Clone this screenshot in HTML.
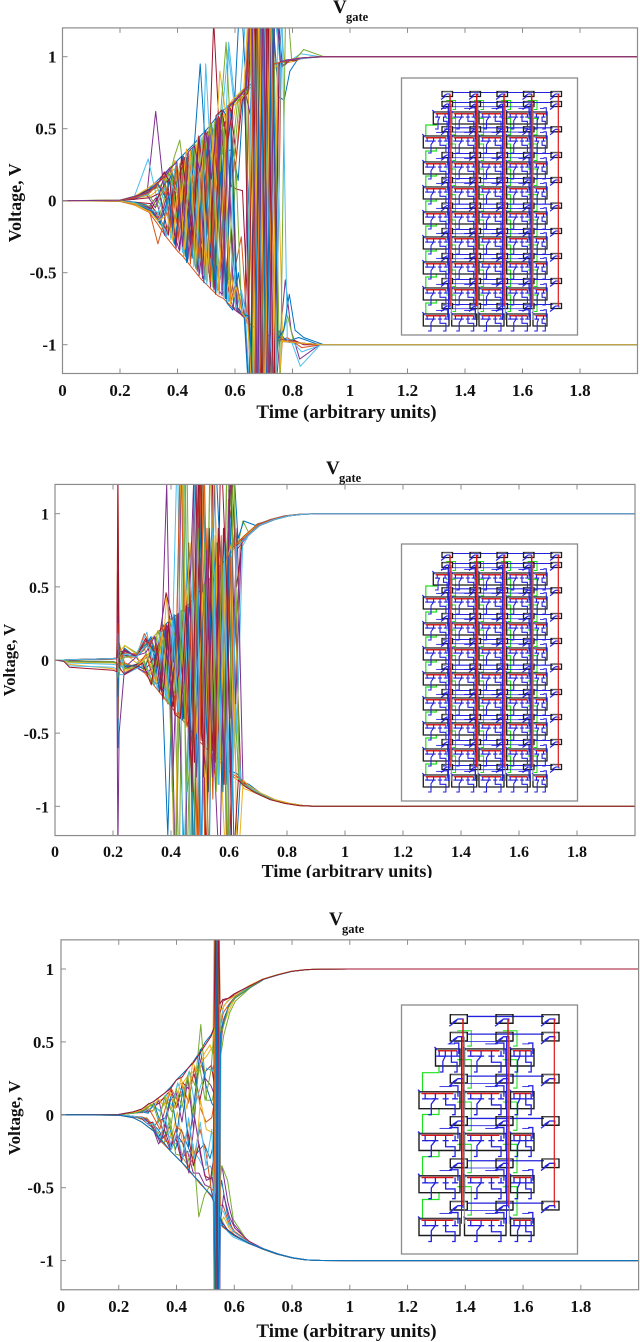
<!DOCTYPE html>
<html lang="en">
<head>
<meta charset="utf-8">
<title>Vgate voltage versus time</title>
<style>
html,body{margin:0;padding:0;background:#fff;}
#chart{display:block;width:640px;height:1342px;filter:blur(0.35px);}
text{font-family:"Liberation Serif",serif;font-weight:bold;fill:#111;}
</style>
</head>
<body>
<svg id="chart" xmlns="http://www.w3.org/2000/svg" width="640" height="1342" viewBox="0 0 640 1342"></svg>
<script>
const seriesColors = ["#0072BD","#D95319","#EDB120","#7E2F8E","#77AC30","#4DBEEE","#A2142F"];
const xTickValues = [0,0.2,0.4,0.6,0.8,1,1.2,1.4,1.6,1.8];
const xTickLabels = ["0","0.2","0.4","0.6","0.8","1","1.2","1.4","1.6","1.8"];
const yTickValues = [-1,-0.5,0,0.5,1];
const yTickLabels = ["-1","-0.5","0","0.5","1"];

const panel1Times = [0,.2,.25,.3,.33,.36,.38,.4,.42,.44,.46,.48,.5,.52,.54,.56,.58,.6,.62,.64,.66,.68,.7,.72,.74,.76,.78,.8,.83,.9,1,2];
const panel1TimeShifts = [0,0,.004,-.006,.008,-.002,.006,-.009,.002,.007,-.005,.009,-.003,.005,-.008,.001,.006,-.007,.003,-.004,.008,-.001,.005,-.009,.007,-.003,.002,-.006,.009,-.005,.004,-.002];
const panel1Values = [
[0,.005,.03,.08,.14,.2,.24,.28,.32,.36,.4,.45,.49,.54,.59,.63,.66,.7,.74,.78,.82,.86,.89,.92,.95,.965,.975,.98,.99,.998,1,1],
[0,-.005,-.03,-.08,-.16,-.25,-.3,-.35,-.39,-.44,-.49,-.54,-.58,-.62,-.66,-.68,-.72,-.76,-.79,-.83,-.87,-.9,-.92,-.94,-.96,-.97,-.98,-.985,-.99,-.998,-1,-1],
[0,.004,.02,.03,.08,-.02,.1,.2,.05,.3,.22,.42,.2,.5,.3,.6,.45,.68,.7,.76,-1.4,1.5,-.6,1.4,.9,.96,.97,.98,.99,1,1,1],
[0,.002,.01,.05,.62,.05,-.08,.02,-.2,.1,-.35,.2,-.48,.05,-.6,-.65,-.6,-.75,-.78,-.8,1.5,-1.5,1.4,-1.5,-.95,-.97,-.98,-.985,-.99,-1,-1,-1],
[0,-.003,-.02,-.04,-.1,.12,.3,.42,.1,.35,-.1,.3,-.5,.55,-.2,.6,.66,.7,.72,.78,.8,1.5,-1.4,.9,.94,.96,.97,.98,.99,1,1,1],
[0,.003,.03,.29,.02,-.1,.05,-.28,.12,-.4,.38,-.5,.95,.2,.6,-.1,1.1,.72,.74,1.3,.82,-1.5,1.5,-1.5,1.3,.95,.98,.98,1.02,1,1,1],
[0,-.002,-.01,-.02,-.12,-.22,.08,.18,.28,.05,.35,-.3,.1,1.25,.45,.55,.1,.08,.07,-.82,.9,-1.3,-.8,-1.4,-.9,-.96,-.97,-.98,-.99,-1,-1,-1],
[0,.002,.01,.06,.11,.16,-.1,.22,-.15,.3,-.4,.38,-.2,.5,-.55,.32,.34,.36,.14,.78,-.2,1.4,.9,-1.4,1.3,.72,.7,.9,.99,1,1,1],
[0,-.004,-.03,-.07,-.3,-.08,-.2,-.05,-.37,.15,-.45,.25,-.56,.4,-.62,-.3,-.7,-.45,-.25,-.85,1.5,-1.5,-1.5,1.5,-.93,-.97,-.95,-.98,-1.02,-1,-1,-1],
[0,.003,.02,.06,.13,.18,.22,.06,.25,-.2,.39,.1,.46,.1,.9,.62,.65,.68,.72,.76,-1.5,1.5,.85,.9,.94,.96,.96,.97,.99,1,1,1],
[0,-.003,-.02,-.06,.02,-.24,-.12,-.33,.2,-.42,.1,-.52,-.2,-.6,.3,-.66,.55,-.74,-.77,-.82,-1.5,1.5,-1.5,1.5,-1.5,-.98,-.55,-.9,-1.1,-1,-1,-1],
[0,.004,.03,.07,.1,.19,.02,.26,-.25,.34,-.1,.45,.05,.52,.58,1.1,.3,.69,.73,.77,1.5,-1.4,1.5,-1.5,.95,.96,.97,.98,1.05,1,1,1],
[0,-.002,-.02,-.05,-.13,.1,-.27,.25,-.36,.33,-.46,.44,-.55,.52,-.64,-.2,-.7,-.3,-.78,-.82,-1.5,1.5,1.5,-1.5,-.95,-.96,-.98,-.98,-1.15,-1,-1,-1],
[0,.001,.01,.02,.05,.14,-.18,.1,.3,-.3,.2,-.4,.48,-.3,.57,.25,.64,.3,.7,.75,1.5,-.9,-1.5,1.5,1.4,.93,.98,.97,.99,1,1,1],
[0,-.001,-.01,-.03,-.09,-.2,.18,-.31,.02,-.43,.36,-.1,-.57,.35,-.65,.45,-.71,-.76,-.5,-.81,-1.5,1.5,-1.5,1.5,-1.5,-.9,-.96,-.97,-.95,-1,-1,-1],
[0,.003,.02,.05,.12,.04,.21,-.22,.31,-.12,.39,.02,.47,-.35,.58,-.4,.65,.2,.73,.77,1.4,-1.5,1.5,.91,-1.4,.97,.97,.98,.99,1,1,1],
[0,-.003,-.03,-.08,-.15,.07,-.29,.12,-.38,.26,-.48,.35,-.1,-.61,.4,-.67,-.5,-.75,-.78,-.82,1.5,-1.5,1.5,-1.5,.6,-.98,-.98,-.985,-.99,-1,-1,-1],
[0,.002,.015,.04,-.05,.17,.23,-.02,.15,.35,-.22,.44,-.42,.53,-.08,.62,-.25,.69,.73,.78,.6,1.5,-1.5,1.5,-1.5,.96,.94,.98,.99,1,1,1],
[0,-.002,-.015,-.04,-.14,-.23,-.06,.16,-.3,.21,-.47,.05,.42,-.6,.05,.5,-.69,.25,-.77,-.81,-1.5,1.5,-1.5,1.5,-.9,-.95,-.8,-.97,-.99,-1,-1,-1],
[0,.003,.02,.04,.13,-.12,.06,.27,-.28,.05,.39,-.45,.48,-.5,.58,.62,1.05,.69,.73,.76,-1.5,1.5,.88,-1.5,1.5,.96,.97,.98,.985,1,1,1],
[0,-.002,-.02,-.06,.05,-.24,.14,-.34,.22,-.38,.15,-.53,.3,-.61,.52,-.67,.3,-.74,-.79,-.81,1.5,-1.5,1.5,-1.5,-.94,-.97,-.98,-.97,-1,-1,-1,-1],
[0,.002,.02,.06,.12,.02,.2,.09,.31,-.18,.4,.95,.3,.53,.1,.63,.55,.7,1.5,.77,1.5,-1.5,1.5,-1.5,1.5,.97,.975,.98,.99,1,1,1],
[0,-.003,-.025,-.07,-.12,-.2,.03,-.26,.27,-.44,.2,-.51,-.35,.45,-.65,.35,-.7,-.55,-.78,-.83,-1.5,1.5,-1.5,1.5,-1.5,-.97,-.97,-.98,-.99,-1,-1,-1],
[0,.004,.03,.08,.12,.15,.16,.28,-.05,.36,.12,.44,-.52,.54,.25,-.3,.64,.7,.74,.78,1.5,-1.5,.9,1.5,-1.5,1.5,.97,.98,.99,1,1,1],
[0,-.003,-.02,-.05,-.15,.06,-.22,-.35,.05,-.3,.3,-.54,.45,-.62,.58,-.68,-.2,-.76,-.8,-.82,-1.5,1.5,-1.5,1.5,-.96,-.97,-.98,-.985,-.99,-1,-1,-1],
[0,.003,.02,.05,-.04,.11,.24,-.12,.22,-.05,.4,-.3,.4,.54,-.45,.6,-.55,.3,.74,.78,-1.5,1.5,-1.5,1.5,.95,-1.4,1.5,.98,.99,1,1,1],
[0,-.002,-.015,-.06,-.08,-.25,.1,.04,-.39,.32,-.3,.44,-.58,.3,-.4,-.68,.62,-.76,-.62,-.82,1.5,-1.5,1.5,-.93,-1.5,1.5,-.98,-.985,-1.05,-1,-1,-1],
[0,.002,.02,.07,.09,.2,.12,-.3,.31,.03,-.25,.45,.1,-.4,.59,.63,.4,.68,.72,.77,-1.5,1.5,-1.5,1.5,-1.5,.96,.97,.98,.99,1,1,1],
[0,-.003,-.02,-.07,-.16,.03,-.3,-.02,-.39,.18,-.49,.28,-.25,-.55,.2,-.68,.45,-.75,-.79,-.8,-1.5,1.5,-1.5,1.5,-.96,-.9,-.65,-.9,-.95,-1,-1,-1],
[0,.002,.02,.05,.1,.18,-.2,.24,-.24,.33,.12,-.4,.47,-.56,.55,-.45,.66,.69,.73,.78,1.5,-1.5,1.5,-1.5,.95,.96,.97,.98,.99,1,1,1],
[0,-.002,-.02,-.08,-.14,-.1,-.28,.2,-.34,.36,-.44,.4,-.56,.48,-.63,.3,-.72,-.6,-.78,-.83,-1.5,1.5,-1.5,1.5,-1.5,-.97,-.98,-.985,-.99,-1,-1,-1],
[0,.003,.03,.06,.12,.17,.23,.27,-.32,.34,.38,.2,.49,.15,.57,-.62,.65,.69,.73,.78,1.5,-1.5,1.5,-1.5,1.5,.965,.975,.98,.99,1,1,1]
];

const panel2Times = [0,.03,.05,.2,.213,.217,.221,.24,.28,.31,.34,.36,.38,.4,.42,.44,.46,.48,.5,.52,.54,.56,.58,.6,.62,.64,.66,.7,.75,.8,.85,.9,1,2];
const panel2TimeShifts = [0,0,.006,-.004,.008,-.007,.003,.009,-.002,-.008,.005,-.005,.007,.001,-.009,.004,-.003,.008,-.006,.002,.006,-.001,-.007,.009,.003,-.004,.005,-.008];
const panel2Values = [
[0,0,0,.01,.012,.02,.02,.02,.04,.1,.16,.2,.24,.28,.31,.34,.38,.43,.47,.52,.57,.62,.67,.72,.77,.81,.85,.92,.96,.985,.996,.999,1,1],
[0,-.005,-.01,-.015,-.02,-.03,-.03,-.03,-.05,-.09,-.17,-.22,-.27,-.32,-.37,-.41,-.46,-.51,-.56,-.6,-.64,-.68,-.72,-.76,-.79,-.82,-.86,-.91,-.955,-.98,-.995,-.999,-1,-1],
[0,-.01,-.03,-.06,-.07,1.3,-.1,.05,-.02,.03,.1,-.1,.45,-.2,.3,-.4,.5,-.5,.6,-.1,.65,.3,.7,.74,.78,.82,.86,.92,.96,.985,.996,.999,1,1],
[0,-.005,-.01,-.01,-.02,-1.3,-.5,-.05,.02,-.05,-.14,.12,-.2,.3,-1.5,1.5,-.45,.4,-.55,.5,-.63,.6,-.7,-.74,-.8,-.83,-.86,-.91,-.955,-.98,-.995,-.999,-1,-1],
[0,0,.002,.005,.01,.9,-.05,.1,.05,.12,.02,.18,-.3,.27,-1.5,1.5,-1.5,.43,.2,-.6,.57,-.3,.66,1.2,.76,.95,.87,.92,.96,.985,.996,.999,1,1],
[0,-.01,-.04,-.05,-.06,.85,-.1,-.1,-.04,-.08,.05,-.2,.1,-.3,.3,-.4,.6,-.8,.47,-.55,.55,-.66,.3,-.75,.1,-.82,-.86,-.91,-.955,-.98,-.995,-.999,-1,-1],
[0,0,.002,.006,.01,.6,.08,.03,.03,.15,-.1,.2,.46,.29,-.35,.34,-.44,1.5,-1.5,.5,-.62,.9,-.85,.72,.2,.82,.85,.92,.96,.985,.996,.999,1,1],
[0,-.002,-.005,-.01,-.02,-.6,.05,-.05,-.03,.02,-.16,-.15,-1.2,.2,-.36,.3,-.45,-1.5,1.5,-.9,.56,-.68,.62,-.76,-.78,-.83,-.85,-.91,-.955,-.98,-.995,-.999,-1,-1],
[0,0,.002,.008,.012,.08,-.03,.02,.02,.18,.08,.05,.22,-.28,.3,.1,.37,-.5,1.5,-1.5,-.2,.6,-.9,1.1,.78,.8,.85,.93,.96,.985,.996,.999,1,1],
[0,-.002,-.006,-.012,-.02,-.2,.06,-.08,-.05,-.02,-.1,.16,-.26,.25,-1.5,.34,-.46,.42,-1.5,1.5,-.64,.85,-.72,-1.5,-.8,-.82,-.88,-.91,-.955,-.98,-.995,-.999,-1,-1],
[0,0,.003,.01,.012,.3,-.02,.06,.03,.09,.16,-.05,1.2,-.9,.31,-.4,.38,-.1,.47,-.9,.95,-.85,.9,-.4,.75,.8,.85,.92,.96,.985,.996,.999,1,1],
[0,-.003,-.008,-.012,-.02,-.3,.12,-.03,-.04,.01,-.15,.1,-.25,-.3,-.2,1.5,-1.5,.41,-.55,.8,-.9,.7,-.7,1.5,-.2,-.82,-.86,-.91,-.955,-.98,-.995,-.999,-1,-1],
[0,0,.001,.008,.01,.2,.03,.04,.04,.19,-.15,.2,-.27,.28,-.37,1.5,-1.5,.75,.46,-.4,.57,-.67,.66,.71,-.5,.78,.85,.92,.96,.985,.996,.999,1,1],
[0,-.002,-.007,-.015,-.02,-.1,.06,-.06,-.03,-.07,.02,-.22,.23,-.32,.3,-.41,.8,-.7,1.5,-1.5,.56,-.68,.9,-1.5,.35,-.82,-.86,-.91,-.955,-.98,-.995,-.999,-1,-1],
[0,0,.002,.01,.011,.15,-.01,.08,.02,.06,.16,-.12,.24,-.15,.31,-.38,.37,-.9,1.5,.2,-1.5,1.5,.67,-.85,1.5,.83,.95,.92,.96,.985,.996,.999,1,1],
[0,-.004,-.01,-.014,-.025,-.4,.1,-.02,-.05,.04,-.17,.14,-.27,.1,-.37,.33,-.46,.7,-.55,.9,-.95,.8,-.8,.7,-.79,-.82,-.86,-.91,-.955,-.98,-.995,-.999,-1,-1],
[0,0,.003,.01,.012,.05,.05,.1,.04,-.08,.15,.2,-.2,.28,.05,1.5,-.42,.3,.85,-.8,1.5,-.6,-.7,.9,-.6,.76,.85,.92,.96,.985,.996,.999,1,1],
[0,-.003,-.009,-.015,-.02,-.05,.02,-.09,-.05,-.09,-.02,-.22,-.1,.15,-.36,-1.5,.35,-.8,.4,.7,-.63,-1.5,.8,-.9,.9,-.82,-.86,-.91,-.955,-.98,-.995,-.999,-1,-1],
[0,0,.002,.01,.012,.12,-.04,.02,.03,.1,-.06,.2,.1,.27,.16,-.4,1.5,-1.5,.1,.52,-.9,.8,-.5,1.5,.77,.81,.85,.92,.96,.985,.996,.999,1,1],
[0,-.005,-.02,-.03,-.035,-.15,.04,-.1,-.06,-.03,-.17,.05,-.27,-.12,1.5,-1.5,-.3,.42,-1.5,.5,.9,-.85,.65,-1.5,-.25,-.84,-.86,-.91,-.955,-.98,-.995,-.999,-1,-1],
[0,0,.001,.01,.012,.07,.02,.07,.02,.14,.04,-.2,.24,-.32,-.1,.34,-.7,1.5,-.5,-.85,1.5,.1,-.8,1.5,.5,.81,.85,.92,.96,.985,.996,.999,1,1],
[0,-.002,-.008,-.015,-.02,-.25,.03,-.04,-.04,-.06,.1,-.21,.2,-.31,.3,-.41,.36,-1.5,.7,-.6,.4,.8,-.9,.7,-1.5,-.82,-.87,-.91,-.955,-.98,-.995,-.999,-1,-1],
[0,0,.002,.01,.012,.25,-.06,.05,.04,.06,.14,.02,.24,.2,-.36,1.5,-.44,.42,-1.5,1.5,-.62,-.8,.85,-1.5,.77,.81,.85,.92,.96,.985,.996,.999,1,1],
[0,-.004,-.015,-.02,-.025,-.08,.04,-.07,-.05,.03,-.16,.19,-.26,-.02,-.36,.32,.8,-.5,.46,-1.5,1.5,-.67,.65,.8,-1.5,-.82,-.86,-.91,-.955,-.98,-.995,-.999,-1,-1],
[0,0,.002,.01,.012,.03,.06,.06,.03,.05,.16,-.18,.24,-.28,.31,-.2,.37,1.5,-1.5,.75,-.8,.61,-.75,1.5,-.3,.81,.85,.92,.96,.985,.996,.999,1,1],
[0,-.003,-.01,-.015,-.02,-.12,.08,-.06,-.05,-.01,-.16,.04,.15,-.32,-1.5,.33,-.9,-.5,.9,-.6,1.5,-.9,.7,-1.5,1.5,-.82,-.86,-.91,-.955,-.98,-.995,-.999,-1,-1],
[0,0,.002,.01,.012,.18,-.08,.04,.02,.1,.04,.19,-.26,.27,-.35,.33,-.45,1.5,-1.5,.51,.9,-.85,.8,-1.5,.77,.81,.85,.92,.96,.985,.996,.999,1,1],
[0,-.008,-.05,-.07,-.08,1.3,-.05,-.1,-.05,-.02,-.17,.1,-.27,.26,-.37,-.4,.37,-.9,1.5,-.8,.9,-.7,1.5,.5,-1.5,-.82,-.86,-.91,-.955,-.98,-.995,-.999,-1,-1]
];

const panel3Times = [0,.2,.25,.28,.3,.32,.34,.36,.38,.4,.42,.44,.46,.48,.5,.52,.53,.535,.54,.545,.55,.56,.58,.6,.65,.7,.75,.8,.85,.9,1,2];
const panel3TimeShifts = [0,0,.003,-.002,.004,-.003,.001,-.004,.002,.003,-.001,-.003,.004,-.002,.002,.001,-.004,.003,-.001,.002,0,0];
const panel3Values = [
[0,.003,.02,.04,.07,.09,.12,.15,.19,.24,.28,.32,.37,.43,.5,.55,.6,.63,.65,.7,.76,.79,.8,.83,.88,.93,.96,.985,.996,.999,1,1],
[0,-.003,-.02,-.05,-.08,-.11,-.17,-.21,-.25,-.29,-.33,-.38,-.42,-.47,-.51,-.56,-.6,-.64,-.66,-.7,-.74,-.77,-.8,-.83,-.88,-.92,-.955,-.98,-.995,-.999,-1,-1],
[0,.002,.015,.03,.06,.08,.1,.12,.04,.2,.22,.28,.3,.36,.4,.46,.5,-1.5,1.5,-1.5,.5,.62,.72,.8,.87,.93,.96,.985,.996,.999,1,1],
[0,-.002,-.015,-.02,-.06,-.09,-.2,-.14,-.24,-.1,-.3,-.25,-.4,-.4,-.48,-.5,-.58,1.5,-1.5,1.5,-.35,-.36,-.6,-.75,-.87,-.92,-.955,-.98,-.995,-.999,-1,-1],
[0,.001,.01,.02,.08,.05,.03,.1,.02,.1,.16,.3,.2,.62,.1,.1,.2,1.5,-1.5,.9,.42,.55,.7,.78,.87,.93,.96,.985,.996,.999,1,1],
[0,-.001,-.01,-.02,-.04,-.08,-.05,-.12,-.15,-.2,-.18,-.26,-.24,-.3,-.38,-.35,-.4,-1.5,1.5,-1.5,-.8,-.72,-.8,-.84,-.88,-.92,-.955,-.98,-.995,-.999,-1,-1],
[0,.002,.01,.02,.03,.06,.08,.13,.17,.05,.22,.18,.28,.1,.3,.34,.2,1.5,-1.5,1.5,.7,.78,.8,.82,.88,.93,.96,.985,.996,.999,1,1],
[0,-.002,-.01,-.02,-.03,-.06,-.1,-.16,-.08,-.24,-.1,-.2,-.3,-.25,-.2,-.3,-.22,-1.5,1.5,-1.5,-.6,-.45,-.68,-.8,-.87,-.92,-.955,-.98,-.995,-.999,-1,-1],
[0,.001,.012,.015,.05,-.02,-.1,.05,.18,.1,.2,.08,.33,.05,-.05,-.02,.1,-1.5,1.5,-1.2,.6,.7,.76,.81,.87,.93,.96,.985,.996,.999,1,1],
[0,-.001,-.012,-.03,-.05,-.07,-.18,-.05,-.16,.02,-.22,-.05,-.38,.1,-.1,-.12,-.15,1.5,-1.5,1.5,-.75,-.7,-.78,-.83,-.88,-.92,-.955,-.98,-.995,-.999,-1,-1],
[0,.002,.01,.03,.02,.03,.1,-.08,.1,.15,-.05,.25,-.1,.4,.25,.2,.15,1.5,-1.5,.4,.3,.6,.74,.8,.87,.93,.96,.985,.996,.999,1,1],
[0,-.002,-.01,-.03,-.02,-.1,-.12,-.2,-.02,-.27,-.28,-.34,-.2,-.7,-.55,-.48,-.35,-1.5,1.5,-1.5,-.5,-.35,-.45,-.72,-.87,-.92,-.955,-.98,-.995,-.999,-1,-1],
[0,.001,.01,.02,.04,.06,.02,.14,.06,.22,.12,.3,.06,.2,.32,.3,.38,-1.5,1.5,-1.5,.66,.75,.79,.82,.88,.93,.96,.985,.996,.999,1,1],
[0,-.002,-.012,-.025,-.06,-.05,-.15,-.1,-.22,-.16,-.32,-.1,-.35,-.2,-.42,-.44,-.3,1.5,-1.5,1.5,-.68,-.74,-.79,-.82,-.88,-.92,-.955,-.98,-.995,-.999,-1,-1],
[0,.002,.012,.02,.01,.08,-.04,-.02,.14,-.12,.18,-.22,.1,.45,.2,.08,.05,-1.5,1.5,-1.5,.55,.65,.75,.8,.87,.93,.96,.985,.996,.999,1,1],
[0,-.001,-.01,-.015,-.03,-.09,-.02,-.18,-.2,-.08,-.12,-.36,-.28,-.1,-.25,-.52,-.5,1.5,-1.5,1.5,-.62,-.62,-.74,-.8,-.87,-.92,-.955,-.98,-.995,-.999,-1,-1],
[0,.002,.015,.03,.06,.02,.11,.06,.16,.04,.26,.04,.36,.28,.42,.48,.42,1.5,-1.5,1.5,.74,.72,.78,.81,.88,.93,.96,.985,.996,.999,1,1],
[0,-.002,-.012,-.02,-.05,-.1,-.19,-.07,-.23,-.14,-.2,-.4,-.02,-.28,-.45,-.43,-.55,-1.5,1.5,-1.5,-.72,-.55,-.7,-.78,-.87,-.92,-.955,-.98,-.995,-.999,-1,-1],
[0,.001,.01,.025,.05,.07,-.05,.13,-.1,.18,.05,.27,-.02,.35,.1,.3,.55,1.5,-1.5,1.5,.6,.58,.73,.8,.87,.93,.96,.985,.996,.999,1,1],
[0,-.001,-.01,-.02,-.07,-.06,-.17,-.02,-.24,-.12,-.3,-.02,-.3,-.05,-.35,-.1,-.58,-1.5,1.5,-1.5,-.66,-.66,-.76,-.81,-.88,-.92,-.955,-.98,-.995,-.999,-1,-1],
[0,.002,.02,.04,.07,.09,.12,.15,.18,.24,.26,.32,.36,.42,.48,.54,.6,1.5,-1.5,1.5,.76,.79,.8,.83,.88,.93,.96,.985,.996,.999,1,1],
[0,-.002,-.02,-.05,-.08,-.11,-.16,-.2,-.25,-.29,-.33,-.37,-.42,-.46,-.51,-.55,-.6,-1.5,1.5,-1.5,-.7,-.76,-.8,-.83,-.88,-.92,-.955,-.98,-.995,-.999,-1,-1]
];

const svgNS = "http://www.w3.org/2000/svg";
const chart = document.getElementById("chart");

function add(parent, tag, attrs) {
  const node = document.createElementNS(svgNS, tag);
  for (const key in attrs) node.setAttribute(key, attrs[key]);
  parent.appendChild(node);
  return node;
}

function drawPanel(index, cfg, times, values, shifts) {
  const xAxis = t => cfg.x0 + t * cfg.xPerUnit;
  const yAxis = v => cfg.y0 - v * cfg.yPerUnit;
  const left = xAxis(0), right = xAxis(2), top = yAxis(1.2), bottom = yAxis(-1.2);
  const panel = add(chart, "g", {});
  
  

  const clip = add(panel, "clipPath", {id: "plot-clip-" + index});
  add(clip, "rect", {x: left, y: top, width: right - left, height: bottom - top});

  const lines = add(panel, "g", {"clip-path": "url(#plot-clip-" + index + ")", fill: "none", "stroke-width": cfg.lineWidth, "stroke-linejoin": "round"});
  
  
  values.forEach((series, s) => {
    const shift = shifts[s] || 0;
    const pts = series.map((v, i) => {
      const t = times[i] >= cfg.shiftFrom && times[i] < 1 ? times[i] + shift : times[i];
      return xAxis(t).toFixed(1) + "," + yAxis(v).toFixed(1);
    }).join(" ");
    const line = add(lines, "polyline", {points: pts, stroke: seriesColors[s % seriesColors.length]});
    
    
  });

  const frame = add(panel, "rect", {x: left, y: top, width: right - left, height: bottom - top, fill: "none", stroke: "#8c8c8c", "stroke-width": 1.2});
  
  

  xTickValues.forEach((t, i) => {
    if (i > 0) {
      const tickB = add(panel, "line", {x1: xAxis(t), x2: xAxis(t), y1: bottom, y2: bottom - 5, stroke: "#8c8c8c", "stroke-width": 1});
      
      
      const tickT = add(panel, "line", {x1: xAxis(t), x2: xAxis(t), y1: top, y2: top + 5, stroke: "#8c8c8c", "stroke-width": 1});
      
      
    }
    const label = add(panel, "text", {x: xAxis(t), y: cfg.xTickY, "text-anchor": "middle", "font-size": cfg.tickFont});
    label.textContent = xTickLabels[i];
    
    
  });
  yTickValues.forEach((v, i) => {
    const tick = add(panel, "line", {x1: left, x2: left + 5, y1: yAxis(v), y2: yAxis(v), stroke: "#8c8c8c", "stroke-width": 1});
    
    
    const label = add(panel, "text", {x: cfg.yTickX, y: yAxis(v) + 6, "text-anchor": "end", "font-size": cfg.tickFont});
    label.textContent = yTickLabels[i];
    
    
  });

  const xTitle = add(panel, "text", {x: cfg.xTitleX, y: cfg.xTitleY, "text-anchor": "middle", "font-size": cfg.xTitleFont});
  xTitle.textContent = "Time (arbitrary units)";
  
  

  const yTitle = add(panel, "text", {transform: "translate(" + cfg.yTitleX + "," + (yAxis(0) + cfg.yTitleShift) + ") rotate(-90)", "text-anchor": "middle", "font-size": cfg.yTitleFont});
  yTitle.textContent = "Voltage, V";
  
  

  const title = add(panel, "text", {x: cfg.titleX, y: cfg.titleY, "font-size": 19});
  title.textContent = "V";
  
  
  const sub = add(panel, "text", {x: cfg.titleX + 13, y: cfg.titleY + 8, "font-size": 12.5});
  sub.textContent = "gate";
  
  
}

function path(parent, d, stroke, width) {
  return add(parent, "path", {d: d, fill: "none", stroke: stroke, "stroke-width": width});
}

function drawCircuit(index, c) {
  const inset = add(chart, "g", {});
  
  
  const panelBox = add(inset, "rect", {x: c.x, y: c.y, width: c.w, height: c.h, fill: "#fff", stroke: "#8c8c8c", "stroke-width": 1.3});
  
  
  const blue = "#2222dd", green = "#1fe01f", red = "#e01515", dark = "#1c1c1c";
  const last = c.smallX.length - 1;
  const bw1 = c.blueWidth;

  // green links around the small cells, feeding each row from the one above
  c.smallY.forEach((sy, r) => {
    if (r === 0) return;
    for (let k = 0; k < last; k++) {
      const sx = c.smallX[k];
      const rise = r === 1 ? c.smallH * 0.7 : c.greenRise;
      path(inset, "M" + (sx + c.smallW * 0.4) + " " + (sy - rise) + "H" + (sx + c.smallW + c.greenOut) + "V" + (sy + c.smallH * 1.1) + "H" + (sx + c.smallW), green, 1.1);
    }
  });
  c.bigY.forEach((by, r) => {
    if (r === 0) return;
    const gx = c.bigX[0][0] + c.greenInset;
    const prevBottom = c.bigY[r - 1] + c.bigH;
    const midY = by - c.greenRise;
    path(inset, "M" + gx + " " + by + "V" + midY + "H" + (c.bigX[0][0] + c.greenReach) + "V" + prevBottom, green, 1.2);
  });

  c.smallY.forEach((sy, r) => {
    path(inset, "M" + (c.smallX[0] + c.smallW) + " " + (sy - c.smallH * 0.3) + "H" + (c.smallX[last] + 2), blue, bw1);
    if (r > 0) path(inset, "M" + (c.smallX[0] + 4) + " " + (sy + c.smallH * 0.55) + "H" + (c.smallX[last - 1] + c.smallW), blue, 0.8);
  });

  c.bigY.forEach((by, r) => {
    c.bigX.forEach((b, k) => {
      const bx = (r === 0 && k === 0) ? b[0] + c.firstInset : b[0];
      const bw = (r === 0 && k === 0) ? b[1] - c.firstInset : b[1];
      path(inset, "M" + bx + " " + by + "h" + bw + "v" + c.bigH + "h" + (-bw) + "z", dark, c.boxWidth);
      path(inset, "M" + (bx + 1) + " " + (by + 0.8) + "h" + (bw - 2), "#888", 1.4);
      path(inset, "M" + (bx + 2.5) + " " + (by + 1.8) + "h" + (bw * 0.78), red, 1.4);
      const fractions = bw > 20 ? [0.15, 0.4, 0.65, 0.88] : [0.25, 0.75];
      fractions.forEach(f => {
        const px = bx + bw * f;
        path(inset, "M" + px + " " + (by + 2) + "v" + (c.bigH * 0.3), blue, bw1);
        path(inset, "M" + (px - c.bigH * 0.18) + " " + (by + c.bigH * 0.42) + "h" + (c.bigH * 0.36), blue, bw1);
      });
      path(inset, "M" + (bx + bw * 0.15) + " " + (by + c.bigH * 0.42) + "H" + (bx + bw * 0.4) + "L" + (bx + bw * 0.3) + " " + (by + c.bigH * 0.72) + "V" + (by + c.bigH + c.dropY) + "h-3", blue, bw1);
      path(inset, "M" + (bx + bw * 0.65) + " " + (by + c.bigH * 0.42) + "V" + (by + c.bigH * 0.78) + "H" + (bx + bw * 0.88) + "V" + (by + c.bigH + c.dropY) + "h-3", blue, bw1);
      path(inset, "M" + (bx + bw * 0.95) + " " + (by + c.bigH * 0.3) + "V" + (by - c.bigH * 0.35) + "h" + (-bw * 0.2), blue, bw1);
      path(inset, "M" + (bx + bw * 0.5) + " " + (by - c.bigH * 0.3) + "h" + (bw * 0.3) + "", blue, 0.9);
      path(inset, "M" + (bx - 1) + " " + (by - 2) + "l2.5 2.5", blue, bw1);
    });
  });

  c.smallY.forEach(sy => {
    c.smallX.forEach(sx => {
      path(inset, "M" + sx + " " + (sy - c.smallH / 2) + "h" + c.smallW + "v" + c.smallH + "h" + (-c.smallW) + "z", dark, c.boxWidth);
      path(inset, "M" + (sx + 1) + " " + (sy - c.smallH / 2 + 0.4) + "h" + (c.smallW - 2), "#888", 1);
      path(inset, "M" + (sx + c.smallW * 0.15) + " " + (sy + c.smallH * 0.4) + "l" + (c.smallW * 0.3) + " -" + (c.smallH * 0.4) + "h" + (c.smallW * 0.3) + "v" + (c.smallH * 0.3), blue, bw1);
      path(inset, "M" + (sx - 1) + " " + (sy + c.smallH / 2 + 3) + "l" + (c.smallW * 0.45) + " -" + (c.smallH * 0.7), blue, bw1);
    });
  });

  c.redX.forEach((rx, k) => {
    if (k < c.redX.length - 1) {
      path(inset, "M" + (rx + 1.3) + " " + c.smallY[1] + "V" + (c.smallY[c.smallY.length - 1] + c.redExtra), "#8a8a8a", 1);
      path(inset, "M" + (rx - 1.5) + " " + c.smallY[1] + "V" + (c.smallY[c.smallY.length - 1] + c.redExtra), blue, 1);
    }
    path(inset, "M" + rx + " " + c.smallY[0] + "V" + c.smallY[c.smallY.length - 1], red, k < c.redX.length - 1 ? 1.5 : 1.2);
  });
}

const panel1Layout = {x0: 62.5, xPerUnit: 287.5, y0: 200.7, yPerUnit: 144, lineWidth: 1, shiftFrom: .3, tickFont: 17, xTickY: 396, yTickX: 56.5, xTitleX: 346.5, xTitleY: 418, xTitleFont: 19, yTitleX: 21, yTitleShift: 2, yTitleFont: 18, titleX: 333, titleY: 13};
const panel2Layout = {x0: 55, xPerUnit: 290, y0: 660, yPerUnit: 146.3, lineWidth: 1, shiftFrom: .3, tickFont: 16, xTickY: 857, yTickX: 49, xTitleX: 347, xTitleY: 877, xTitleFont: 18, yTitleX: 15, yTitleShift: 0, yTitleFont: 16.5, titleX: 326, titleY: 474};
const panel3Layout = {x0: 61, xPerUnit: 288.8, y0: 1114.8, yPerUnit: 145.8, lineWidth: 1, shiftFrom: .28, tickFont: 16.8, xTickY: 1312, yTickX: 54, xTitleX: 346.5, xTitleY: 1337, xTitleFont: 19, yTitleX: 20, yTitleShift: 3, yTitleFont: 17, titleX: 329, titleY: 925};

drawPanel(1, panel1Layout, panel1Times, panel1Values, panel1TimeShifts);
drawPanel(2, panel2Layout, panel2Times, panel2Values, panel2TimeShifts);
const labelCut = add(chart, "rect", {x: 200, y: 878, width: 300, height: 8, fill: "#fff"});


drawPanel(3, panel3Layout, panel3Times, panel3Values, panel3TimeShifts);

const insetCommon = {w: 176, h: 257, smallW: 10.5, smallH: 5, bigH: 12, firstInset: 10, greenInset: 2.5, greenReach: 13, greenRise: 11, greenOut: 3, dropY: 5, redExtra: 14, blueWidth: 1.1, boxWidth: 1.3,
  smallX: [442, 470, 497, 523.5, 551],
  bigX: [[423.3, 25.7], [451.7, 25], [479, 25], [506.7, 23.5], [533, 14]],
  redX: [450, 476.7, 504, 531.7, 558.3]};
drawCircuit(1, Object.assign({}, insetCommon, {x: 401.5, y: 78, smallY: [94, 104, 129.3, 155, 180, 205.7, 231, 256, 281, 306], bigY: [112, 136, 162, 187, 212, 237, 262, 288, 314]}));
drawCircuit(2, Object.assign({}, insetCommon, {x: 401.5, y: 544, smallY: [555, 565, 590.3, 616, 641, 666.7, 692, 717, 742, 767], bigY: [573, 597, 623, 648, 673, 698, 723, 749, 775]}));
drawCircuit(3, {x: 401.5, y: 1005, w: 176, h: 249, smallW: 17, smallH: 8.5, bigH: 17, firstInset: 16.5, greenInset: 3.5, greenReach: 20, greenRise: 19, greenOut: 4, dropY: 6, redExtra: 18, blueWidth: 1.3, boxWidth: 1.4,
  smallX: [450.3, 496, 542],
  bigX: [[419, 41], [464.5, 41.5], [510.5, 23.5]],
  redX: [463, 508, 554.3],
  smallY: [1019, 1036.7, 1078.7, 1121, 1163.3, 1205.7],
  bigY: [1049, 1091.7, 1133.5, 1175.7, 1218.5]});
</script>
</body>
</html>
